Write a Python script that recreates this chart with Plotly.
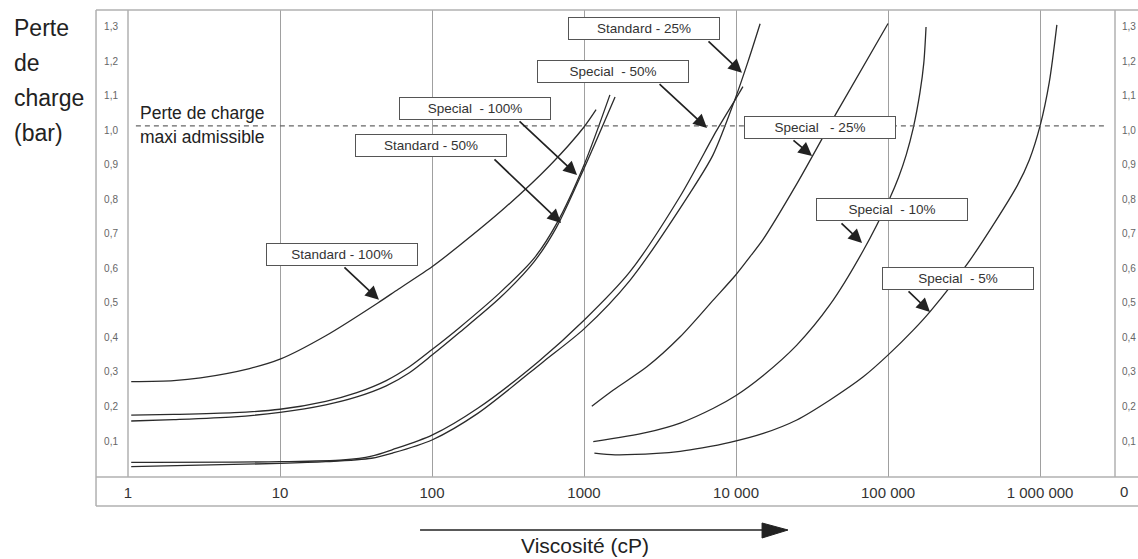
import math
import plotly.graph_objects as go

# ---------------- data (viscosity in cP, pressure loss in bar) ----------------
std100_x = [1.05, 2, 3, 6.3, 10, 20, 44, 60, 100, 150, 300, 600, 1000, 1200]
std100_y = [0.272, 0.275, 0.283, 0.31, 0.337, 0.405, 0.50, 0.54, 0.605, 0.665, 0.775, 0.90, 1.01, 1.06]

sp100_x = [1.05, 2, 5, 10, 20, 32, 50, 71, 100, 150, 280, 470, 660, 1000, 1480]
sp100_y = [0.175, 0.177, 0.182, 0.192, 0.215, 0.24, 0.275, 0.315, 0.365, 0.427, 0.53, 0.63, 0.73, 0.90, 1.103]

std50_x = [1.05, 2, 5, 10, 20, 32, 50, 71, 100, 150, 280, 470, 660, 1000, 1600]
std50_y = [0.158, 0.162, 0.170, 0.183, 0.205, 0.228, 0.26, 0.298, 0.349, 0.413, 0.515, 0.62, 0.72, 0.89, 1.097]

sp50_x = [1.05, 10, 26, 40, 55, 100, 200, 500, 1000, 2000, 4300, 7460, 9840, 11100]
sp50_y = [0.038, 0.040, 0.045, 0.056, 0.075, 0.117, 0.195, 0.33, 0.45, 0.59, 0.81, 1.0, 1.088, 1.127]

std25_x = [1.05, 10, 20, 40, 55, 100, 200, 540, 1000, 2000, 5000, 7070, 9840, 12000, 14400]
std25_y = [0.026, 0.035, 0.040, 0.050, 0.065, 0.103, 0.18, 0.33, 0.425, 0.565, 0.82, 0.93, 1.09, 1.2, 1.309]

sp25_x = [1125, 1560, 2590, 4290, 7100, 9950, 12400, 15100, 25100, 45700, 100000]
sp25_y = [0.201, 0.248, 0.315, 0.402, 0.509, 0.581, 0.635, 0.685, 0.845, 1.05, 1.31]

sp10_x = [1150, 2590, 4290, 7100, 10000, 15100, 25100, 41500, 68700, 103000, 117500, 131800,
          146200, 162200, 171800, 177800]
sp10_y = [0.098, 0.125, 0.152, 0.195, 0.232, 0.29, 0.378, 0.495, 0.652, 0.805, 0.865, 0.93,
          1.005, 1.11, 1.195, 1.30]

sp5_x = [1170, 1600, 3000, 4290, 6000, 9120, 15100, 25100, 41500, 68700, 101000, 147000, 189000,
         347000, 708000, 851000, 1000000, 1150000, 1290000]
sp5_y = [0.065, 0.06, 0.064, 0.07, 0.08, 0.096, 0.122, 0.161, 0.219, 0.286, 0.351, 0.422, 0.475,
         0.625, 0.84, 0.915, 1.013, 1.14, 1.306]

series = [
    ("Standard - 100%", std100_x, std100_y),
    ("Special  - 100%", sp100_x, sp100_y),
    ("Standard - 50%", std50_x, std50_y),
    ("Special  - 50%", sp50_x, sp50_y),
    ("Standard - 25%", std25_x, std25_y),
    ("Special   - 25%", sp25_x, sp25_y),
    ("Special  - 10%", sp10_x, sp10_y),
    ("Special  - 5%", sp5_x, sp5_y),
]

x_tickvals = [1, 10, 100, 1000, 10000, 100000, 1000000]
x_ticktext = ["1", "10", "100", "1000", "10 000", "100 000", "1 000 000"]
y_tickvals = [0.1, 0.2, 0.3, 0.4, 0.5, 0.6, 0.7, 0.8, 0.9, 1.0, 1.1, 1.2, 1.3]
y_ticktext = ["0,1", "0,2", "0,3", "0,4", "0,5", "0,6", "0,7", "0,8", "0,9", "1,0", "1,1", "1,2", "1,3"]
max_loss = 1.013  # "Perte de charge maxi admissible"

# ---------------- label placement (layout, log10 positions) ----------------
# name, box centre (log10 x, y), arrow tail (log10 x, y), arrow tip (log10 x, y)
labels = [
    ("Standard - 100%", (1.411, 0.641), (1.414, 0.607), (1.651, 0.509)),
    ("Special  - 100%", (2.286, 1.064), (2.566, 1.030), (2.954, 0.871)),
    ("Standard - 50%", (1.993, 0.957), (2.401, 0.920), (2.849, 0.732)),
    ("Special  - 50%", (3.191, 1.170), (3.487, 1.138), (3.809, 1.007)),
    ("Standard - 25%", (3.395, 1.295), (3.809, 1.262), (4.039, 1.167)),
    ("Special   - 25%", (4.553, 1.009), (4.368, 0.975), (4.500, 0.926)),
    ("Special  - 10%", (5.026, 0.770), (4.684, 0.735), (4.829, 0.674)),
    ("Special  - 5%", (5.461, 0.572), (5.125, 0.538), (5.276, 0.474)),
]

FONT = "Liberation Sans, Arial, Helvetica, sans-serif"
CURVE = "#2b2b2b"
FRAME = "#b0b0b0"
GRID = "#a0a0a0"

fig = go.Figure()
for name, xs, ys in series:
    fig.add_trace(go.Scatter(
        x=xs, y=ys, mode="lines", name=name.replace("  ", " "),
        line=dict(color=CURVE, width=1.3, shape="spline", smoothing=0.8),
        showlegend=False, hoverinfo="x+y+name"))

# trace anchoring the right-hand axis (same scale)
fig.add_trace(go.Scatter(x=[x_tickvals[0]], y=[y_tickvals[0]], yaxis="y2", mode="lines",
                         line=dict(width=0), showlegend=False, hoverinfo="skip"))

Y_RANGE = [-0.0043, 1.349]
X_RANGE = [0, 6.493]

fig.update_layout(
    width=1138, height=559, autosize=False,
    margin=dict(l=128, r=23, t=10, b=82, autoexpand=False),
    paper_bgcolor="white", plot_bgcolor="white",
    font=dict(family=FONT, color="#333"),
    xaxis=dict(type="log", range=X_RANGE, tickvals=x_tickvals, ticktext=x_ticktext,
               showgrid=True, gridcolor=GRID, gridwidth=1, zeroline=False, showline=False,
               ticks="", tickfont=dict(size=15, color="#333"), ticklabelstandoff=5,
               automargin=False),
    yaxis=dict(range=Y_RANGE, tickvals=y_tickvals, ticktext=y_ticktext, showgrid=False,
               zeroline=False, showline=False, ticks="",
               tickfont=dict(size=10, color="#666"), ticklabelstandoff=9, automargin=False),
    yaxis2=dict(range=Y_RANGE, tickvals=y_tickvals, ticktext=y_ticktext, overlaying="y",
                side="right", showgrid=False, zeroline=False, showline=False, ticks="",
                tickfont=dict(size=10, color="#666"), ticklabelstandoff=6, automargin=False),
)

shapes = []
def pline(x0, y0, x1, y1, color=FRAME, width=1.5):
    shapes.append(dict(type="line", xref="paper", yref="paper", x0=x0, y0=y0, x1=x1, y1=y1,
                       line=dict(color=color, width=width), layer="above"))

BL = -0.0324   # outer frame left
BB = -0.0621   # outer frame bottom
pline(BL, 1, 1.05, 1)        # top
pline(BL, BB, 1.05, BB)      # bottom of tick strip
pline(BL, BB, BL, 1)         # left
pline(BL, 0, 1.05, 0)        # plot bottom
pline(0, 0, 0, 1)            # plot left
pline(1, 0, 1, 1)            # plot right

# maximum admissible pressure loss
shapes.append(dict(type="line", xref="paper", yref="y", x0=0.008, x1=0.99, y0=max_loss, y1=max_loss,
                   line=dict(color="#666", width=1.2, dash="5px,4px")))

# viscosity arrow below the axis
shapes.append(dict(type="line", xref="paper", yref="paper", x0=0.2959, x1=0.645, y0=-0.1135, y1=-0.1135,
                   line=dict(color="#222", width=1.6)))
shapes.append(dict(type="path", xref="paper", yref="paper",
                   path="M 0.6424 -0.0985 L 0.6687 -0.1135 L 0.6424 -0.1306 Z",
                   fillcolor="#222", line=dict(color="#222", width=1)))
fig.update_layout(shapes=shapes)

ann = []
for name, (bx, by), (tx, ty), (hx, hy) in labels:
    ann.append(dict(x=hx, y=hy, ax=tx, ay=ty, xref="x", yref="y", axref="x", ayref="y",
                    text="", showarrow=True, arrowhead=2, arrowsize=1.6, arrowwidth=1.7,
                    arrowcolor="#222", standoff=0, startstandoff=0))
for name, (bx, by), (tx, ty), (hx, hy) in labels:
    ann.append(dict(x=bx, y=by, xref="x", yref="y", text=name.replace(" ", "&nbsp;"), showarrow=False,
                    font=dict(size=13.5, color="#333", family=FONT), bgcolor="white",
                    bordercolor="#555", borderwidth=1, borderpad=2, width=146, height=17,
                    align="center"))

# left axis title (stacked words)
for word, yp in zip(["Perte", "de", "charge", "(bar)"], [0.9615, 0.8865, 0.8116, 0.7366]):
    ann.append(dict(x=-0.1175, y=yp, xref="paper", yref="paper", text=word, showarrow=False,
                    xanchor="left", yanchor="middle", font=dict(size=23, color="#222", family=FONT)))

ann.append(dict(x=0.0101, y=0.7794, xref="paper", yref="paper", text="Perte de charge",
                showarrow=False, xanchor="left", yanchor="middle",
                font=dict(size=17.5, color="#222", family=FONT)))
ann.append(dict(x=0.0101, y=0.728, xref="paper", yref="paper", text="maxi admissible",
                showarrow=False, xanchor="left", yanchor="middle",
                font=dict(size=17.5, color="#222", family=FONT)))

ann.append(dict(x=0.463, y=-0.1475, xref="paper", yref="paper", text="Viscosité (cP)",
                showarrow=False, xanchor="center", yanchor="middle",
                font=dict(size=21, color="#222", family=FONT)))

ann.append(dict(x=1.009, y=-0.032, xref="paper", yref="paper", text="0",
                showarrow=False, xanchor="center", yanchor="middle",
                font=dict(size=15, color="#333", family=FONT)))

fig.update_layout(annotations=ann)
fig.write_html("out.html")
